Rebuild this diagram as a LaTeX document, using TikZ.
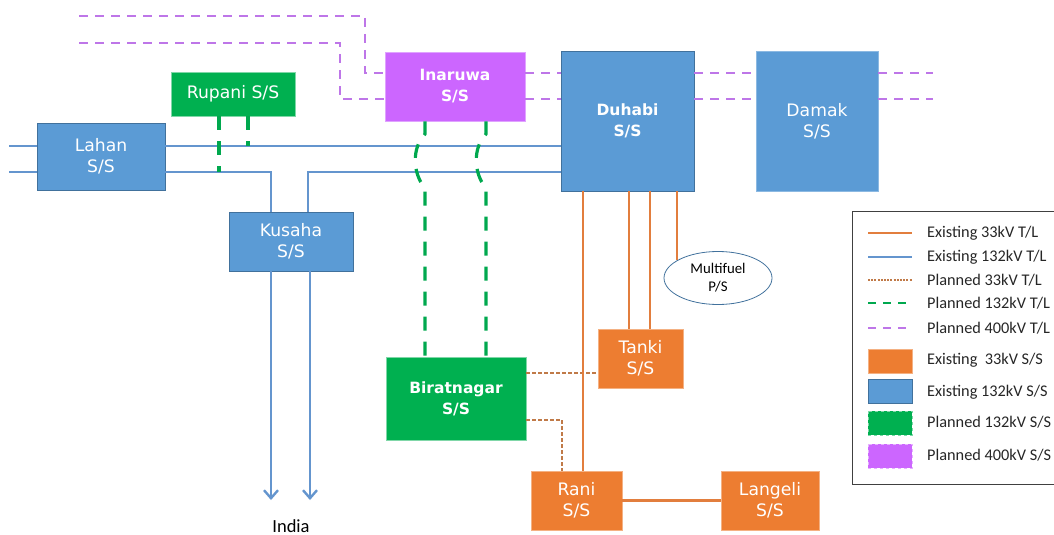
\documentclass[tikz,border=0pt]{standalone}
\usepackage{fontspec}
\setmainfont{Carlito}
\newfontfamily\boxfont{DejaVu Sans}
\usetikzlibrary{arrows.meta,shapes.geometric}

\definecolor{ssorange}{RGB}{237,125,49}
\definecolor{ssblue}{RGB}{91,155,213}
\definecolor{ssblueedge}{RGB}{65,113,156}
\definecolor{ssgreen}{RGB}{0,176,80}
\definecolor{sspurple}{RGB}{204,102,255}
\definecolor{lnorange}{RGB}{226,126,62}
\definecolor{lnblue}{RGB}{100,149,206}
\definecolor{lngreen}{RGB}{0,168,78}
\definecolor{lnpurple}{RGB}{190,118,232}
\definecolor{lnbrown}{RGB}{192,122,72}

\tikzset{
  box/.style={rectangle, inner sep=0pt, align=center, text=white, line width=0.8pt,
    font=\boxfont\fontsize{17.2}{21}\selectfont},
  boldbox/.style={box, font=\boxfont\bfseries\fontsize{15.5}{21}\selectfont},
  ex33/.style={box, fill=ssorange, draw=ssorange!60!white},
  ex132/.style={box, fill=ssblue, draw=ssblueedge},
  pn132/.style={box, fill=ssgreen, draw=ssgreen!50!white},
  pn400/.style={box, fill=sspurple, draw=sspurple!60!white},
  tl33/.style={draw=lnorange, line width=2.2pt},
  tl132/.style={draw=lnblue, line width=2.4pt},
  pl33/.style={draw=lnbrown, line width=1.6pt, dash pattern=on 4pt off 2pt},
  pl132/.style={draw=lngreen, line width=3.2pt, dash pattern=on 14pt off 11pt},
  pl400/.style={draw=lnpurple, line width=2.6pt, dash pattern=on 9pt off 7pt},
  legtext/.style={anchor=west, inner sep=0pt, text=black!85, font=\fontsize{16.3}{18}\selectfont}
}

\begin{document}
\begin{tikzpicture}[x=1pt,y=-1pt]
  \clip (0,0) rectangle (1054,535);

  % substations
  \node[ex132, minimum width=128pt, minimum height=67pt] (lahan) at (101,156.5) {Lahan\\S/S};
  \node[pn132, minimum width=124pt, minimum height=44pt] (rupani) at (233,94) {Rupani S/S};
  \node[pn400, boldbox, minimum width=140pt, minimum height=69pt] (inaruwa) at (455,86.5) {Inaruwa\\S/S};
  \node[ex132, boldbox, minimum width=133pt, minimum height=140pt] (duhabi) at (627.5,121) {Duhabi\\S/S};
  \node[ex132, draw=ssblue!70!white, minimum width=122pt, minimum height=140pt] (damak) at (817,121) {Damak\\S/S};
  \node[ex132, minimum width=124pt, minimum height=59pt] (kusaha) at (291,241.5) {Kusaha\\S/S};
  \node[pn132, boldbox, minimum width=140pt, minimum height=83pt] (biratnagar) at (456,398.5) {Biratnagar\\S/S};
  \node[ex33, minimum width=85pt, minimum height=59pt] (tanki) at (640.5,358.5) {Tanki\\S/S};
  \node[ex33, minimum width=91pt, minimum height=59pt] (rani) at (576.5,500.5) {Rani\\S/S};
  \node[ex33, minimum width=98pt, minimum height=59pt] (langeli) at (770,500.5) {Langeli\\S/S};
  \node[ellipse, draw=ssblueedge, line width=0.8pt, minimum width=108pt, minimum height=53pt,
        inner sep=0pt, align=center, font=\fontsize{14.8}{18}\selectfont] (multifuel) at (718,278) {Multifuel\\P/S};
  \node[inner sep=0pt, font=\fontsize{18.5}{20}\selectfont] (india) at (291,526) {India};

  % levels of the lines
  \coordinate (ha) at (0,146);
  \coordinate (hb) at (0,172);
  \coordinate (hp) at (0,73);
  \coordinate (hq) at (0,99);
  \coordinate (wa) at (9,146);
  \coordinate (wb) at (9,172);
  \coordinate (ka) at (271,0);
  \coordinate (kb) at (308,0);
  \coordinate (ia) at (271,500);
  \coordinate (ib) at (310,500);

  % 132kV lines
  \draw[tl132] (wa) -- (lahan.west |- wa);
  \draw[tl132] (wb) -- (lahan.west |- wb);
  \draw[tl132] (lahan.east |- ha) -- (duhabi.west |- ha);
  \draw[tl132] (lahan.east |- hb) -| (kusaha.north -| ka);
  \draw[tl132] (duhabi.west |- hb) -| (kusaha.north -| kb);
  \draw[tl132, -{Straight Barb[length=8pt, width=14pt]}] (kusaha.south -| ka) -- (ia);
  \draw[tl132, -{Straight Barb[length=8pt, width=14pt]}] (kusaha.south -| ib) -- (ib);

  % planned 400kV
  \coordinate (pa) at (79,16);
  \coordinate (pb) at (79,43);
  \coordinate (ca) at (365,73);
  \coordinate (cb) at (340,99);
  \coordinate (ea) at (933,73);
  \coordinate (eb) at (933,99);
  \draw[pl400] (pa) -| (ca) -- (inaruwa.west |- ca);
  \draw[pl400] (pb) -| (cb) -- (inaruwa.west |- cb);
  \draw[pl400] (inaruwa.east |- hp) -- (duhabi.west |- hp);
  \draw[pl400] (inaruwa.east |- hq) -- (duhabi.west |- hq);
  \draw[pl400] (duhabi.east |- hp) -- (damak.west |- hp);
  \draw[pl400] (duhabi.east |- hq) -- (damak.west |- hq);
  \draw[pl400] (damak.east |- ea) -- (ea);
  \draw[pl400] (damak.east |- eb) -- (eb);

  % planned 132kV
  \coordinate (ga) at (219,0);
  \coordinate (gb) at (248,0);
  \draw[pl132] (rupani.south -| ga) -- (ga |- hb);
  \draw[pl132] (rupani.south -| gb) -- (gb |- ha);
  \foreach \x/\n in {425/ba, 486/bb} {
    \coordinate (\n) at (\x,0);
    \draw[pl132] (inaruwa.south -| \n) -- (\x,134)
      .. controls (\x-13,147) and (\x-13,173) .. (\x,188) -- (biratnagar.north -| \n);
  }

  % planned 33kV
  \coordinate (da) at (0,373);
  \coordinate (db) at (562,420);
  \draw[pl33] (biratnagar.east |- da) -- (tanki.west |- da);
  \draw[pl33] (biratnagar.east |- db) -| (rani.north -| db);

  % 33kV lines
  \coordinate (oa) at (583,0);
  \coordinate (ob) at (629,0);
  \coordinate (oc) at (650,0);
  \draw[tl33] (duhabi.south -| oa) -- (rani.north -| oa);
  \draw[tl33] (duhabi.south -| ob) -- (tanki.north -| ob);
  \draw[tl33] (duhabi.south -| oc) -- (tanki.north -| oc);
  \draw[tl33] (duhabi.south -| multifuel.157) -- (multifuel.157);
  \draw[tl33] (rani) -- (langeli);

  % legend
  \draw[line width=1pt, black!75] (852,211) rectangle (1070,484);
  \draw[tl33] (868,233) -- (912,233);
  \draw[tl132] (868,257) -- (912,257);
  \draw[pl33, line width=1.3pt, dash pattern=on 2pt off 1.2pt] (868,280) -- (912,280);
  \draw[pl132, line width=2.6pt, dash pattern=on 8pt off 7pt] (868,303) -- (912,303);
  \draw[pl400, dash pattern=on 8pt off 7pt] (868,328) -- (912,328);
  \draw[fill=ssorange, draw=ssorange!60!white, line width=0.8pt] (868,349) rectangle (912,373);
  \draw[fill=ssblue, draw=ssblueedge, line width=0.8pt] (868,379) rectangle (912,403);
  \draw[fill=ssgreen, draw=ssgreen!50!white, line width=0.8pt, dashed] (868,411) rectangle (912,435);
  \draw[fill=sspurple, draw=sspurple!50!white, line width=0.8pt, dashed] (868,444) rectangle (912,468);
  \node[legtext] (lgA) at (927,233) {Existing 33kV T/L};
  \node[legtext] (lgB) at (927,257) {Existing 132kV T/L};
  \node[legtext] (lgC) at (927,280) {Planned 33kV T/L};
  \node[legtext] (lgD) at (927,303) {Planned 132kV T/L};
  \node[legtext] (lgE) at (927,328) {Planned 400kV T/L};
  \node[legtext] (lgF) at (927,360) {Existing\ \ 33kV S/S};
  \node[legtext] (lgG) at (927,392) {Existing 132kV S/S};
  \node[legtext] (lgH) at (927,422) {Planned 132kV S/S};
  \node[legtext] (lgI) at (927,455) {Planned 400kV S/S};
\end{tikzpicture}
\end{document}
